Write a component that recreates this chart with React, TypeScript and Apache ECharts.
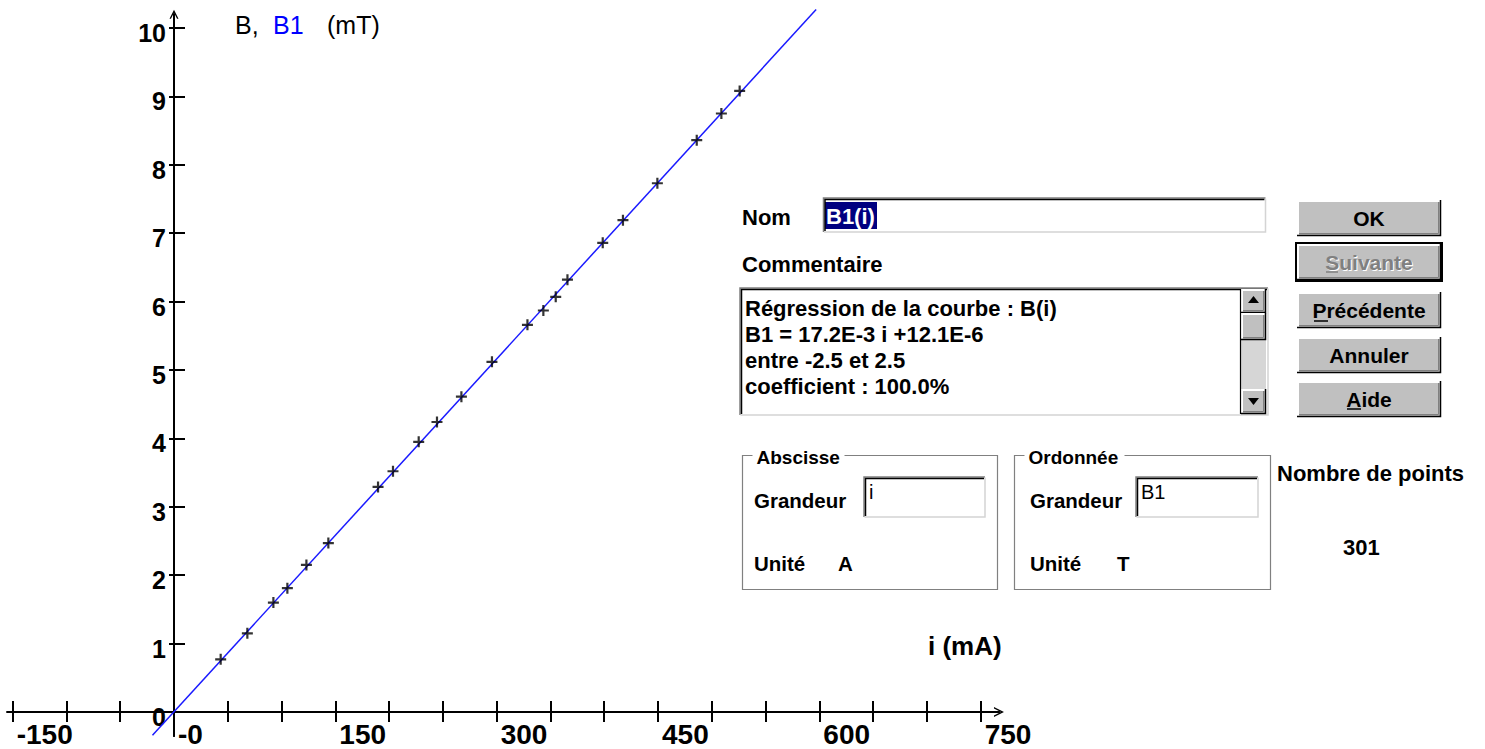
import React, { useEffect, useRef } from 'react';
import * as echarts from 'echarts';

// ---- data ----
const currentMA = [43.4, 68.2, 92.4, 105.4, 123.1, 143.5, 189.7, 203.6, 227.5, 244.5, 267.2, 295.6, 328.6, 343.4, 354.9, 365.8, 398.6, 417.4, 449.4, 486.0, 508.9, 525.9];
const fieldMT = [0.77, 1.15, 1.6, 1.81, 2.15, 2.47, 3.29, 3.52, 3.95, 4.24, 4.61, 5.12, 5.66, 5.87, 6.07, 6.32, 6.86, 7.19, 7.73, 8.36, 8.75, 9.08];
const fitI = [-20, 597];
const fitB = [-0.34, 10.27];
const xTickValues = [-150, -100, -50, 0, 50, 100, 150, 200, 250, 300, 350, 400, 450, 500, 550, 600, 650, 700, 750];
const xLabelValues = [-150, 0, 150, 300, 450, 600, 750];
const yTickValues = [0, 1, 2, 3, 4, 5, 6, 7, 8, 9, 10];
const commentLines = [
  'Régression de la courbe : B(i)',
  'B1 = 17.2E-3 i +12.1E-6',
  'entre -2.5 et 2.5',
  'coefficient : 100.0%',
];

const SANS = '"Liberation Sans", Arial, sans-serif';

function txt(x: number, y: number, text: string, size: number, opts: any = {}) {
  const align = opts.align || 'left';
  return {
    type: 'text',
    x,
    y,
    silent: true,
    z: 10,
    style: {
      text,
      fill: opts.fill || '#000',
      fontSize: size,
      fontWeight: opts.weight || 'bold',
      fontFamily: opts.family || SANS,
      align,
      verticalAlign: 'middle',
      textAlign: align,
      textVerticalAlign: 'middle',
    },
  };
}

function rect(x: number, y: number, w: number, h: number, style: any) {
  return { type: 'rect', silent: true, z: 5, shape: { x, y, width: w, height: h }, style };
}

function pl(points: number[][], stroke: string, lw: number) {
  return { type: 'polyline', silent: true, z: 6, shape: { points }, style: { stroke, lineWidth: lw, fill: 'none' } };
}

function raised(x: number, y: number, w: number, h: number) {
  return [
    rect(x, y, w, h, { fill: '#c0c0c0' }),
    pl([[x + 1, y + h - 1], [x + 1, y + 1], [x + w - 1, y + 1]], '#ffffff', 2),
    pl([[x + 2, y + h - 2.5], [x + w - 2.5, y + h - 2.5], [x + w - 2.5, y + 2]], '#808080', 1),
    pl([[x, y + h - 0.5], [x + w - 0.5, y + h - 0.5], [x + w - 0.5, y]], '#000000', 1.5),
  ];
}

function button(x: number, y: number, w: number, h: number, label: string, opts: any = {}) {
  const els: any[] = [...raised(x, y, w, h)];
  if (opts.framed) {
    els.push(rect(x - 1, y - 1, w + 2, h + 2, { fill: 'none', stroke: '#000', lineWidth: 2 }));
  }
  const cx = x + w / 2;
  const cy = y + h / 2;
  if (opts.disabled) {
    els.push(txt(cx + 1, cy + 1, label, 21, { align: 'center', fill: '#ffffff' }));
    els.push(txt(cx, cy, label, 21, { align: 'center', fill: '#808080' }));
  } else {
    els.push(txt(cx, cy, label, 21, { align: 'center' }));
  }
  if (opts.ul) {
    els.push({
      type: 'line', silent: true, z: 11,
      shape: { x1: opts.ul[0], y1: opts.ul[2], x2: opts.ul[1], y2: opts.ul[2] },
      style: { stroke: opts.disabled ? '#808080' : '#000', lineWidth: 1.5 },
    });
  }
  return els;
}

function sunken(x: number, y: number, w: number, h: number) {
  return [
    rect(x, y, w, h, { fill: '#ffffff' }),
    pl([[x, y + h], [x, y], [x + w, y]], '#808080', 1.5),
    pl([[x + 1.5, y + h - 1], [x + 1.5, y + 1.5], [x + w - 1, y + 1.5]], '#000000', 1.5),
    pl([[x + 0.5, y + h], [x + w, y + h], [x + w, y + 0.5]], '#d4d4d4', 1.5),
  ];
}

function groupBox(x: number, y: number, w: number, h: number, title: string, tw: number) {
  return [
    rect(x, y, w, h, { fill: 'none', stroke: '#808080', lineWidth: 1.2 }),
    rect(x + 10, y - 9, tw, 18, { fill: '#ffffff' }),
    txt(x + 14, y + 2, title, 19),
  ];
}

function buildDialog() {
  const els: any[] = [];
  // Nom
  els.push(txt(742, 217, 'Nom', 22));
  els.push(...sunken(823.5, 198, 442, 34));
  els.push(rect(825, 202, 52, 27, { fill: '#000080' }));
  els.push(txt(826, 216, 'B1(i)', 22, { fill: '#ffffff' }));
  // Commentaire
  els.push(txt(742, 264, 'Commentaire', 22));
  els.push(...sunken(740, 288, 528, 127));
  commentLines.forEach((l, k) => els.push(txt(745, 308 + k * 26, l, 22)));
  // scrollbar
  els.push(rect(1241, 313, 25, 76, { fill: '#d6d6d6' }));
  els.push(...raised(1241, 289, 25, 24));
  els.push({ type: 'polygon', silent: true, z: 8, shape: { points: [[1253.5, 296], [1248, 303], [1259, 303]] }, style: { fill: '#000' } });
  els.push(...raised(1241, 313, 25, 27));
  els.push(...raised(1241, 389, 25, 25));
  els.push({ type: 'polygon', silent: true, z: 8, shape: { points: [[1253.5, 405], [1248, 398], [1259, 398]] }, style: { fill: '#000' } });
  els.push({ type: 'line', silent: true, z: 9, shape: { x1: 1240.5, y1: 289, x2: 1240.5, y2: 414 }, style: { stroke: '#000', lineWidth: 1.2 } });
  // buttons
  els.push(...button(1297, 200, 144, 36, 'OK'));
  els.push(...button(1297, 244, 144, 36, 'Suivante', { framed: true, disabled: true, ul: [1326, 1338, 272] }));
  els.push(...button(1297, 292, 144, 36, 'Précédente', { ul: [1314, 1328, 321] }));
  els.push(...button(1297, 337, 144, 36, 'Annuler'));
  els.push(...button(1297, 381, 144, 36, 'Aide', { ul: [1347, 1361, 409] }));
  // Abscisse
  els.push(...groupBox(742.5, 455.5, 255, 134, 'Abscisse', 92));
  els.push(txt(754, 500, 'Grandeur', 20.5));
  els.push(...sunken(864, 477, 121, 40));
  els.push(txt(869, 492, 'i', 20, { weight: 'normal' }));
  els.push(txt(754, 563, 'Unité', 20.5));
  els.push(txt(838, 563, 'A', 20.5));
  // Ordonnée
  els.push(...groupBox(1014.5, 455.5, 256, 134, 'Ordonnée', 100));
  els.push(txt(1030, 500, 'Grandeur', 20.5));
  els.push(...sunken(1136, 477, 122, 40));
  els.push(txt(1141, 492, 'B1', 20, { weight: 'normal' }));
  els.push(txt(1030, 563, 'Unité', 20.5));
  els.push(txt(1117, 563, 'T', 20.5));
  // Nombre de points
  els.push(txt(1277, 473, 'Nombre de points', 22));
  els.push(txt(1343, 547, '301', 22));
  // axis titles
  els.push(txt(928, 646, 'i (mA)', 26));
  els.push(txt(235, 25, 'B,', 25, { weight: 'normal' }));
  els.push(txt(273, 25, 'B1', 25, { weight: 'normal', fill: '#0000ff' }));
  els.push(txt(327, 25, '(mT)', 25, { weight: 'normal' }));
  return els;
}

const CHEVRON = 'path://M0,10 L5,0 L10,10 L8.4,10 L5,3.2 L1.6,10 Z';
const PLUS = 'path://M4,0 H6 V4 H10 V6 H6 V10 H4 V6 H0 V4 H4 Z';

export default function App() {
  const ref = useRef<HTMLDivElement>(null);
  useEffect(() => {
    if (!ref.current) return;
    const chart = echarts.init(ref.current, undefined, { renderer: 'svg' });
    const points = currentMA.map((v, k) => [v, fieldMT[k]]);
    const fit = fitI.map((v, k) => [v, fitB[k]]);
    const axisLineStyle = { color: '#000', width: 2 };
    const xMin = -155, xMax = 767, yMin = -0.35, yMax = 10.2;
    const pxX = 1.0756, pxY = 68.4;
    const x0 = 174, y0 = 712;
    const gridLeft = x0 + xMin * pxX;
    const gridBottomY = y0 - yMin * pxY;
    chart.setOption({
      animation: false,
      backgroundColor: '#ffffff',
      grid: {
        left: gridLeft,
        width: (xMax - xMin) * pxX,
        top: y0 - yMax * pxY,
        height: (yMax - yMin) * pxY,
        containLabel: false,
        outerBoundsMode: 'none',
      },
      xAxis: [
        {
          type: 'value', min: xMin, max: xMax, position: 'bottom',
          axisLine: { onZero: true, onZeroAxisIndex: 0, lineStyle: axisLineStyle, symbol: ['none', CHEVRON], symbolSize: [15, 10] },
          axisTick: { show: true, inside: true, length: 11, lineStyle: axisLineStyle, customValues: xTickValues },
          axisLabel: {
            show: true, customValues: xLabelValues, align: 'left', verticalAlign: 'top',
            margin: (y0 + 8) - gridBottomY,
            padding: [0, 0, 0, 4], fontSize: 28, fontWeight: 'bold', fontFamily: SANS, color: '#000',
            formatter: (v: number) => (v === 0 ? '-0' : String(v)),
          },
          splitLine: { show: false },
        },
        {
          type: 'value', min: xMin, max: xMax, position: 'bottom',
          axisLine: { onZero: true, onZeroAxisIndex: 0, lineStyle: axisLineStyle },
          axisTick: { show: true, inside: false, length: 10, lineStyle: axisLineStyle, customValues: xTickValues },
          axisLabel: { show: false },
          splitLine: { show: false },
        },
      ],
      yAxis: [
        {
          type: 'value', min: yMin, max: yMax, position: 'left',
          axisLine: { onZero: true, onZeroAxisIndex: 0, lineStyle: axisLineStyle, symbol: ['none', CHEVRON], symbolSize: [16, 9] },
          axisTick: { show: true, inside: true, length: 11, lineStyle: axisLineStyle, customValues: yTickValues },
          axisLabel: {
            show: true, customValues: yTickValues, verticalAlign: 'top', lineHeight: 10,
            margin: gridLeft - (x0 - 8),
            fontSize: 25, fontWeight: 'bold', fontFamily: SANS, color: '#000',
          },
          splitLine: { show: false },
        },
        {
          type: 'value', min: yMin, max: yMax, position: 'left',
          axisLine: { onZero: true, onZeroAxisIndex: 0, lineStyle: axisLineStyle },
          axisTick: { show: true, inside: false, length: 5, lineStyle: axisLineStyle, customValues: yTickValues },
          axisLabel: { show: false },
          splitLine: { show: false },
        },
      ],
      series: [
        {
          type: 'line', name: 'B1', data: fit, xAxisIndex: 0, yAxisIndex: 0, clip: false,
          showSymbol: false, symbol: 'none', lineStyle: { color: '#1a1aff', width: 1.5 }, z: 3,
        },
        {
          type: 'scatter', name: 'B', data: points, xAxisIndex: 0, yAxisIndex: 0,
          symbol: PLUS, symbolSize: 11, itemStyle: { color: '#000' }, z: 4,
        },
      ],
      graphic: { elements: buildDialog() },
    });
    return () => chart.dispose();
  }, []);
  return (
    <div
      ref={ref}
      style={{ position: 'absolute', left: 0, top: 0, width: 1485, height: 749, background: '#fff' }}
    />
  );
}
